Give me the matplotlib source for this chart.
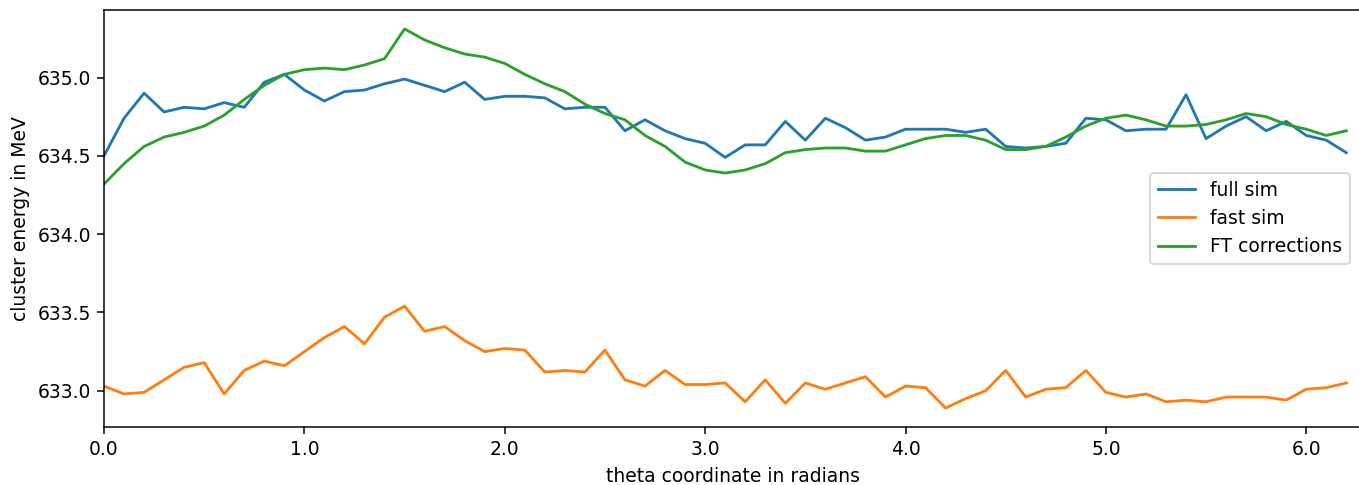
import numpy as np
import matplotlib
matplotlib.use("Agg")
import matplotlib.pyplot as plt
from matplotlib.ticker import FormatStrFormatter

# theta sampled every 0.1 rad over one full turn
theta = np.round(np.arange(0, 2 * np.pi, 0.1), 1)

full_sim = [
    634.50, 634.74, 634.90, 634.78, 634.81, 634.80, 634.84, 634.81, 634.97, 635.02,
    634.92, 634.85, 634.91, 634.92, 634.96, 634.99, 634.95, 634.91, 634.97, 634.86,
    634.88, 634.88, 634.87, 634.80, 634.81, 634.81, 634.66, 634.73, 634.66, 634.61,
    634.58, 634.49, 634.57, 634.57, 634.72, 634.60, 634.74, 634.68, 634.60, 634.62,
    634.67, 634.67, 634.67, 634.65, 634.67, 634.56, 634.55, 634.56, 634.58, 634.74,
    634.73, 634.66, 634.67, 634.67, 634.89, 634.61, 634.69, 634.75, 634.66, 634.72,
    634.63, 634.60, 634.52,
]

fast_sim = [
    633.03, 632.98, 632.99, 633.07, 633.15, 633.18, 632.98, 633.13, 633.19, 633.16,
    633.25, 633.34, 633.41, 633.30, 633.47, 633.54, 633.38, 633.41, 633.32, 633.25,
    633.27, 633.26, 633.12, 633.13, 633.12, 633.26, 633.07, 633.03, 633.13, 633.04,
    633.04, 633.05, 632.93, 633.07, 632.92, 633.05, 633.01, 633.05, 633.09, 632.96,
    633.03, 633.02, 632.89, 632.95, 633.00, 633.13, 632.96, 633.01, 633.02, 633.13,
    632.99, 632.96, 632.98, 632.93, 632.94, 632.93, 632.96, 632.96, 632.96, 632.94,
    633.01, 633.02, 633.05,
]

ft_corrections = [
    634.32, 634.45, 634.56, 634.62, 634.65, 634.69, 634.76, 634.86, 634.95, 635.02,
    635.05, 635.06, 635.05, 635.08, 635.12, 635.31, 635.24, 635.19, 635.15, 635.13,
    635.09, 635.02, 634.96, 634.91, 634.83, 634.77, 634.73, 634.63, 634.56, 634.46,
    634.41, 634.39, 634.41, 634.45, 634.52, 634.54, 634.55, 634.55, 634.53, 634.53,
    634.57, 634.61, 634.63, 634.63, 634.60, 634.54, 634.54, 634.56, 634.62, 634.69,
    634.74, 634.76, 634.73, 634.69, 634.69, 634.70, 634.73, 634.77, 634.75, 634.70,
    634.67, 634.63, 634.66,
]

DPI = 135
W, H = 1359, 485
fig = plt.figure(figsize=(W / DPI, H / DPI), dpi=DPI)
ax = fig.add_axes([104 / W, 1 - 427 / H, (1363 - 104) / W, (427 - 10) / H])

ax.plot(theta, full_sim, label="full sim")
ax.plot(theta, fast_sim, label="fast sim")
ax.plot(theta, ft_corrections, label="FT corrections")

ax.set_xlim(0, 2 * np.pi)
ax.xaxis.set_major_formatter(FormatStrFormatter("%.1f"))
ax.set_xlabel("theta coordinate in radians")
ax.set_ylabel("cluster energy in MeV")
ax.legend(loc="center right", borderaxespad=0.7)

fig.savefig("out.png", dpi=DPI)
